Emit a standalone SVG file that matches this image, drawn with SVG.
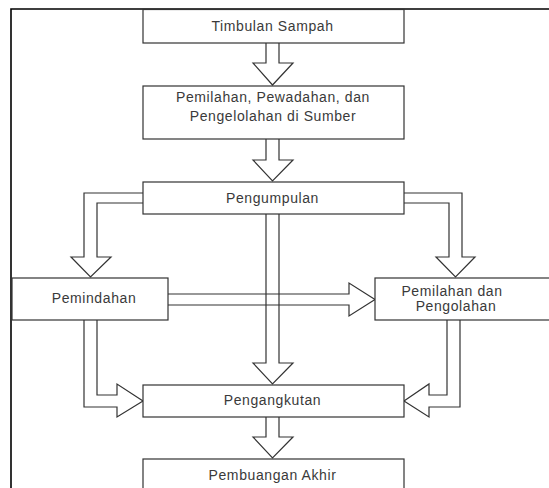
<svg xmlns="http://www.w3.org/2000/svg" width="549" height="488" viewBox="0 0 549 488">
<style>
.box{fill:#fff;stroke:#333;stroke-width:1.2}
.arr{fill:none;stroke:#333;stroke-width:1.2;stroke-linejoin:miter}
text{font-family:"Liberation Sans",Arial,sans-serif;font-size:14px;fill:#3a3a3a;text-anchor:middle;letter-spacing:0.6px}
</style>
<rect width="549" height="488" fill="#fff"/>
<path d="M11,488 V9 H549" fill="none" stroke="#000" stroke-width="1.6"/>
<g id="connectors">
<path class="arr" d="M266,43 V63 H253 L272.5,85 L293,63 H279 V43"/>
<path class="arr" d="M266,139 V160 H253 L272.5,181 L293,160 H279 V139"/>
<path class="arr" d="M266,214 V363 H253 L272.5,384 L293,363 H279 V214"/>
<path class="arr" d="M266,417 V437 H253 L272.5,458 L293,437 H279 V417"/>
<path class="arr" d="M143,193 H84 V257 H71 L90.5,277 L111,257 H97 V203 H143"/>
<path class="arr" d="M404,193 H462 V257 H475 L455.5,277 L436,257 H449 V203 H404"/>
<path class="arr" d="M168,294 H349 V283 L375,299.5 L349,316 V305 H168"/>
<path class="arr" d="M84,320 V407 H117 V417 L143,401 L117,384 V395 H97 V320"/>
<path class="arr" d="M460,320 V407 H429 V417 L404,401 L429,384 V395 H447 V320"/>
</g>
<g id="timbulan"><rect class="box" x="143" y="9.5" width="261" height="33.5"/><text x="272.5" y="31">Timbulan Sampah</text></g>
<g id="pemilahan-sumber"><rect class="box" x="143" y="86" width="261" height="53"/><text x="273" y="102">Pemilahan, Pewadahan, dan</text><text x="273" y="121">Pengelolahan di Sumber</text></g>
<g id="pengumpulan"><rect class="box" x="143" y="182" width="261" height="32"/><text x="272.5" y="203">Pengumpulan</text></g>
<g id="pemindahan"><rect class="box" x="12" y="278" width="156" height="42"/><text x="94" y="303">Pemindahan</text></g>
<g id="pemilahan-pengolahan"><rect class="box" x="375" y="278" width="180" height="42"/><text x="452" y="296">Pemilahan dan</text><text x="456" y="310.5">Pengolahan</text></g>
<g id="pengangkutan"><rect class="box" x="143" y="385" width="261" height="32"/><text x="272.5" y="405">Pengangkutan</text></g>
<g id="pembuangan"><rect class="box" x="143" y="459" width="261" height="40"/><text x="272.5" y="480">Pembuangan Akhir</text></g>
</svg>
